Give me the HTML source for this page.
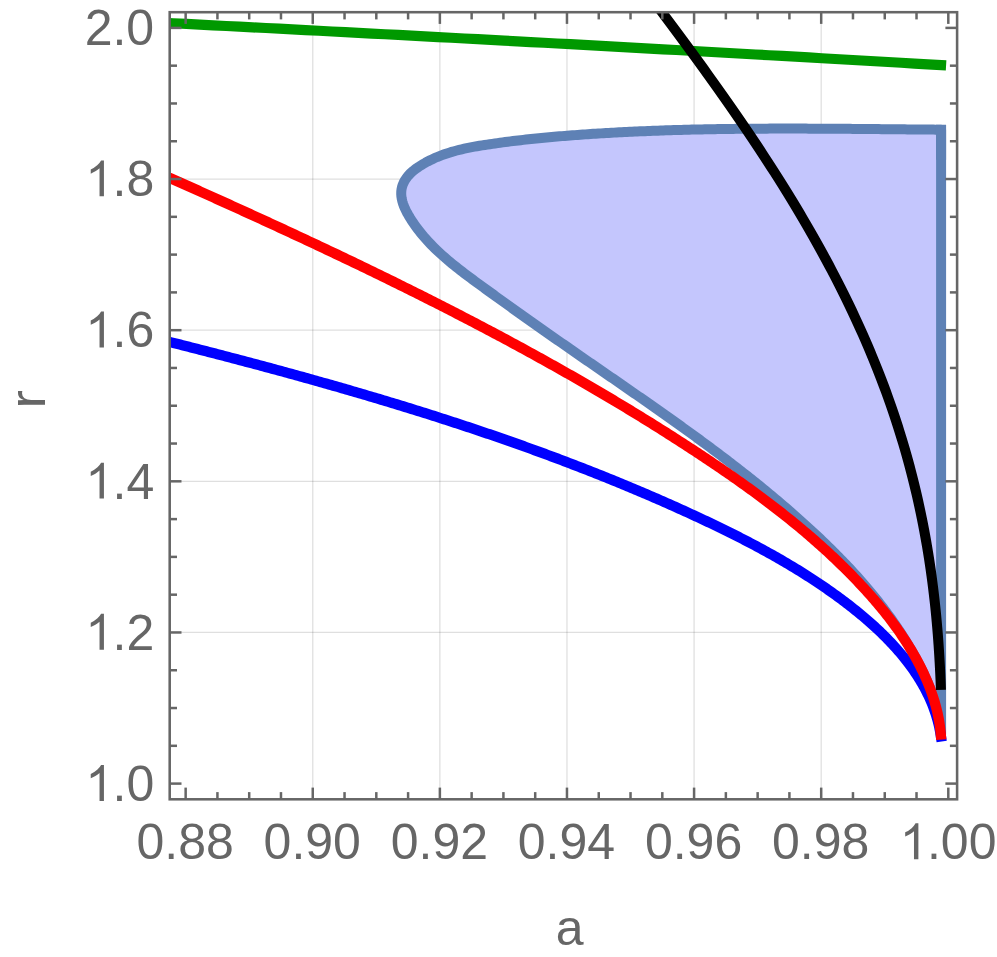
<!DOCTYPE html>
<html><head><meta charset="utf-8"><title>plot</title>
<style>
html,body{margin:0;padding:0;background:#fff;}
body{width:997px;height:957px;overflow:hidden;}
svg{display:block;}
text{font-family:"Liberation Sans",sans-serif;font-size:50px;fill:#666;}
</style></head><body>
<svg width="997" height="957" viewBox="0 0 997 957">
<defs><clipPath id="c"><rect x="169.7" y="12.2" width="787.4000000000001" height="787.0999999999999"/></clipPath></defs>
<rect width="997" height="957" fill="#fff"/>
<g stroke="#000" stroke-opacity="0.125" stroke-width="1.3" fill="none">
<line x1="312.76" y1="12.2" x2="312.76" y2="799.3"/>
<line x1="439.87" y1="12.2" x2="439.87" y2="799.3"/>
<line x1="566.97" y1="12.2" x2="566.97" y2="799.3"/>
<line x1="694.08" y1="12.2" x2="694.08" y2="799.3"/>
<line x1="821.19" y1="12.2" x2="821.19" y2="799.3"/>
<line x1="169.7" y1="632.46" x2="957.1" y2="632.46"/>
<line x1="169.7" y1="481.32" x2="957.1" y2="481.32"/>
<line x1="169.7" y1="330.18" x2="957.1" y2="330.18"/>
<line x1="169.7" y1="179.04" x2="957.1" y2="179.04"/>
</g>
<g clip-path="url(#c)" fill="none" stroke-linejoin="miter">
<path d="M941.10,734.50 L940.81,734.50 L940.65,732.60 L940.39,730.13 L940.09,727.66 L939.75,725.20 L939.38,722.75 L938.96,720.31 L938.51,717.88 L938.02,715.46 L937.50,713.04 L936.94,710.64 L936.35,708.25 L935.72,705.86 L935.06,703.49 L934.36,701.12 L933.63,698.77 L932.88,696.42 L932.09,694.09 L931.27,691.76 L930.42,689.44 L930.29,688.30 L929.27,685.88 L928.23,683.48 L927.17,681.08 L926.10,678.70 L925.00,676.32 L923.89,673.96 L922.76,671.61 L921.61,669.27 L920.44,666.94 L919.26,664.62 L918.06,662.31 L916.84,660.01 L915.61,657.73 L914.36,655.45 L913.10,653.18 L911.81,650.93 L910.52,648.68 L909.20,646.45 L907.87,644.22 L906.53,642.00 L905.17,639.80 L903.80,637.60 L902.41,635.42 L901.00,633.24 L899.59,631.07 L898.15,628.92 L896.71,626.77 L895.25,624.63 L893.77,622.50 L892.29,620.38 L890.79,618.27 L889.27,616.17 L887.75,614.08 L886.21,611.99 L884.66,609.92 L883.09,607.85 L881.52,605.80 L879.93,603.75 L878.33,601.71 L876.72,599.68 L875.09,597.65 L873.46,595.64 L871.82,593.63 L870.16,591.64 L868.49,589.65 L866.82,587.66 L865.13,585.69 L863.43,583.73 L861.72,581.77 L860.01,579.82 L858.28,577.88 L856.54,575.94 L854.80,574.01 L853.04,572.10 L851.28,570.18 L849.51,568.28 L847.73,566.38 L845.94,564.49 L844.14,562.61 L842.34,560.73 L840.53,558.86 L838.71,557.00 L836.88,555.15 L835.04,553.30 L833.20,551.46 L831.35,549.62 L829.50,547.79 L827.64,545.97 L825.77,544.15 L823.90,542.34 L822.02,540.54 L820.13,538.74 L818.24,536.95 L816.35,535.17 L814.45,533.39 L812.54,531.62 L810.63,529.85 L808.71,528.09 L806.79,526.33 L804.87,524.58 L802.94,522.84 L801.01,521.10 L799.07,519.36 L797.13,517.64 L795.18,515.91 L793.23,514.20 L791.28,512.48 L789.32,510.78 L787.36,509.07 L785.39,507.38 L783.42,505.68 L781.45,504.00 L779.47,502.31 L777.49,500.64 L775.51,498.96 L773.52,497.30 L771.52,495.63 L769.53,493.97 L767.53,492.32 L765.52,490.67 L763.52,489.02 L761.51,487.38 L759.49,485.75 L757.48,484.11 L755.46,482.49 L753.43,480.86 L751.41,479.24 L749.38,477.63 L747.34,476.01 L745.31,474.41 L743.27,472.80 L741.23,471.20 L739.18,469.60 L737.13,468.01 L735.08,466.42 L733.03,464.84 L730.97,463.25 L728.91,461.67 L726.85,460.10 L724.79,458.53 L722.72,456.96 L720.65,455.39 L718.58,453.83 L716.51,452.27 L714.43,450.71 L712.35,449.16 L710.27,447.61 L708.19,446.06 L706.10,444.52 L704.01,442.98 L701.92,441.44 L699.83,439.90 L697.74,438.37 L695.64,436.83 L693.54,435.31 L691.44,433.78 L689.34,432.25 L687.24,430.73 L685.13,429.21 L683.03,427.70 L680.92,426.18 L678.81,424.67 L676.69,423.16 L674.58,421.65 L672.47,420.14 L670.35,418.63 L668.23,417.13 L666.11,415.63 L663.99,414.13 L661.87,412.63 L659.75,411.13 L657.63,409.64 L655.50,408.14 L653.37,406.65 L651.25,405.16 L649.12,403.67 L646.99,402.18 L644.86,400.69 L642.73,399.21 L640.60,397.72 L638.47,396.24 L636.33,394.75 L634.20,393.27 L632.07,391.79 L629.93,390.31 L627.80,388.83 L625.66,387.35 L623.52,385.87 L621.39,384.39 L619.25,382.91 L617.11,381.44 L614.98,379.96 L612.84,378.48 L610.70,377.01 L608.56,375.53 L606.42,374.05 L604.29,372.58 L602.15,371.10 L600.01,369.63 L597.87,368.15 L595.74,366.67 L593.60,365.20 L591.46,363.72 L589.32,362.24 L587.19,360.77 L585.05,359.29 L582.92,357.81 L580.78,356.33 L578.65,354.85 L576.51,353.37 L574.38,351.89 L572.24,350.41 L570.11,348.93 L567.98,347.44 L565.85,345.96 L563.72,344.48 L561.59,342.99 L559.46,341.50 L557.33,340.02 L555.20,338.53 L553.08,337.04 L550.95,335.55 L548.82,334.06 L546.70,332.57 L544.57,331.08 L542.45,329.58 L540.33,328.09 L538.20,326.59 L536.08,325.10 L533.96,323.60 L531.84,322.10 L529.72,320.60 L527.60,319.10 L525.48,317.60 L523.36,316.10 L521.25,314.59 L519.13,313.09 L517.01,311.58 L514.90,310.07 L512.79,308.56 L510.67,307.05 L508.56,305.54 L506.45,304.03 L504.34,302.52 L502.23,301.00 L500.12,299.48 L498.01,297.97 L495.90,296.45 L493.79,294.93 L491.69,293.40 L489.58,291.88 L487.48,290.35 L485.37,288.83 L483.27,287.30 L481.17,285.77 L479.07,284.24 L476.97,282.70 L474.87,281.17 L472.77,279.63 L470.68,278.08 L468.60,276.53 L466.52,274.97 L464.44,273.40 L462.38,271.83 L460.32,270.25 L458.28,268.65 L456.24,267.04 L454.21,265.42 L452.20,263.79 L450.20,262.14 L448.22,260.48 L446.25,258.80 L444.30,257.10 L442.36,255.38 L440.44,253.64 L438.54,251.89 L436.66,250.11 L434.80,248.31 L432.97,246.48 L431.15,244.63 L429.36,242.76 L427.60,240.86 L425.86,238.93 L424.14,236.97 L422.46,234.99 L420.80,232.97 L419.17,230.92 L417.57,228.84 L416.00,226.73 L414.47,224.58 L412.96,222.40 L411.49,220.18 L410.06,217.93 L408.68,215.64 L407.36,213.32 L406.12,210.97 L404.99,208.60 L403.97,206.21 L403.08,203.80 L402.35,201.39 L401.78,198.96 L401.40,196.53 L401.22,194.10 L401.26,191.67 L401.53,189.25 L402.06,186.84 L402.86,184.45 L403.93,182.08 L405.23,179.78 L406.74,177.57 L408.43,175.47 L410.26,173.52 L412.23,171.69 L414.29,169.98 L416.44,168.37 L418.64,166.85 L420.88,165.41 L423.14,164.03 L425.42,162.72 L427.73,161.46 L430.05,160.27 L432.39,159.14 L434.75,158.06 L437.13,157.03 L439.53,156.06 L441.94,155.14 L444.36,154.26 L446.80,153.43 L449.26,152.65 L451.73,151.90 L454.21,151.19 L456.70,150.52 L459.20,149.89 L461.72,149.29 L464.24,148.71 L466.77,148.17 L469.31,147.65 L471.85,147.16 L474.40,146.69 L476.96,146.24 L479.52,145.80 L482.08,145.39 L484.65,144.98 L487.22,144.59 L489.79,144.20 L492.36,143.83 L494.94,143.46 L497.51,143.10 L500.09,142.75 L502.66,142.40 L505.24,142.06 L507.82,141.73 L510.39,141.40 L512.97,141.08 L515.55,140.77 L518.13,140.46 L520.71,140.16 L523.29,139.87 L525.88,139.58 L528.46,139.30 L531.04,139.02 L533.63,138.75 L536.21,138.49 L538.80,138.23 L541.38,137.98 L543.97,137.73 L546.55,137.48 L549.14,137.25 L551.73,137.01 L554.31,136.78 L556.90,136.56 L559.49,136.34 L562.08,136.13 L564.67,135.92 L567.26,135.71 L569.85,135.51 L572.44,135.31 L575.03,135.12 L577.62,134.93 L580.21,134.74 L582.80,134.56 L585.39,134.38 L587.98,134.20 L590.57,134.03 L593.17,133.86 L595.76,133.70 L598.35,133.53 L600.94,133.37 L603.53,133.22 L606.13,133.07 L608.72,132.92 L611.31,132.77 L613.90,132.63 L616.50,132.49 L619.09,132.35 L621.68,132.21 L624.28,132.08 L626.87,131.95 L629.46,131.83 L632.06,131.71 L634.65,131.59 L637.25,131.47 L639.84,131.36 L642.44,131.24 L645.03,131.14 L647.62,131.03 L650.22,130.93 L652.81,130.83 L655.41,130.73 L658.00,130.63 L660.60,130.54 L663.20,130.45 L665.79,130.36 L668.39,130.28 L670.98,130.20 L673.58,130.12 L676.17,130.04 L678.77,129.97 L681.37,129.89 L683.96,129.82 L686.56,129.75 L689.15,129.69 L691.75,129.62 L694.35,129.56 L696.94,129.50 L699.54,129.45 L702.14,129.39 L704.73,129.34 L707.33,129.29 L709.93,129.24 L712.53,129.19 L715.12,129.15 L717.72,129.11 L720.32,129.06 L722.91,129.03 L725.51,128.99 L728.11,128.95 L730.71,128.92 L733.30,128.89 L735.90,128.86 L738.50,128.83 L741.10,128.81 L743.69,128.78 L746.29,128.76 L748.89,128.74 L751.49,128.72 L754.09,128.70 L756.68,128.68 L759.28,128.67 L761.88,128.65 L764.48,128.64 L767.08,128.63 L769.67,128.62 L772.27,128.61 L774.87,128.61 L777.47,128.60 L780.07,128.60 L782.66,128.59 L785.26,128.59 L787.86,128.59 L790.46,128.59 L793.06,128.60 L795.65,128.60 L798.25,128.60 L800.85,128.61 L803.45,128.61 L806.05,128.62 L808.65,128.63 L811.24,128.64 L813.84,128.65 L816.44,128.66 L819.04,128.67 L821.64,128.68 L824.23,128.70 L826.83,128.71 L829.43,128.73 L832.03,128.74 L834.63,128.76 L837.22,128.78 L839.82,128.79 L842.42,128.81 L845.02,128.83 L847.62,128.85 L850.21,128.87 L852.81,128.89 L855.41,128.91 L858.01,128.93 L860.60,128.96 L863.20,128.98 L865.80,129.00 L868.40,129.02 L870.99,129.05 L873.59,129.07 L876.19,129.09 L878.78,129.12 L881.38,129.14 L883.98,129.16 L886.58,129.19 L889.17,129.21 L891.77,129.24 L894.37,129.26 L896.96,129.29 L899.56,129.31 L902.16,129.34 L904.75,129.36 L907.35,129.38 L909.94,129.41 L912.54,129.43 L915.14,129.46 L917.73,129.48 L920.33,129.50 L922.92,129.52 L925.52,129.55 L928.11,129.57 L930.71,129.59 L933.31,129.61 L935.90,129.63 L938.50,129.66 L941.10,129.68 Z" fill="#c4c6fd" stroke="#5e81b5" stroke-width="10.0" stroke-linejoin="round"/>
<polyline points="935.90,129.63 941.10,129.68 941.10,159.68" stroke="#5e81b5" stroke-width="10.0" stroke-linejoin="miter" stroke-miterlimit="10"/>
<polyline points="156.79,338.69 171.33,342.37 173.53,342.93 175.72,343.48 177.91,344.04 180.11,344.60 182.30,345.15 184.49,345.71 186.69,346.27 188.88,346.83 191.07,347.39 193.26,347.95 195.46,348.51 197.65,349.08 199.84,349.64 202.04,350.20 204.23,350.77 206.42,351.33 208.61,351.90 210.81,352.47 213.00,353.04 215.19,353.60 217.38,354.17 219.58,354.74 221.77,355.31 223.96,355.89 226.15,356.46 228.35,357.03 230.54,357.61 232.73,358.18 234.92,358.76 237.11,359.33 239.31,359.91 241.50,360.49 243.69,361.07 245.88,361.65 248.07,362.23 250.26,362.81 252.45,363.39 254.64,363.98 256.84,364.56 259.03,365.15 261.22,365.74 263.41,366.32 265.60,366.91 267.79,367.50 269.98,368.09 272.17,368.68 274.36,369.27 276.54,369.87 278.73,370.46 280.92,371.06 283.11,371.65 285.30,372.25 287.49,372.85 289.68,373.45 291.86,374.05 294.05,374.65 296.24,375.26 298.42,375.86 300.61,376.46 302.80,377.07 304.98,377.68 307.17,378.29 309.36,378.90 311.54,379.51 313.73,380.12 315.91,380.73 318.10,381.34 320.28,381.96 322.46,382.58 324.65,383.19 326.83,383.81 329.01,384.43 331.20,385.05 333.38,385.68 335.56,386.30 337.74,386.92 339.93,387.55 342.11,388.18 344.29,388.81 346.47,389.44 348.65,390.07 350.83,390.70 353.01,391.33 355.19,391.97 357.37,392.61 359.54,393.24 361.72,393.88 363.90,394.52 366.08,395.16 368.25,395.81 370.43,396.45 372.61,397.10 374.78,397.74 376.96,398.39 379.13,399.04 381.31,399.69 383.48,400.35 385.65,401.00 387.83,401.66 390.00,402.31 392.17,402.97 394.34,403.63 396.51,404.29 398.69,404.96 400.86,405.62 403.03,406.29 405.19,406.95 407.36,407.62 409.53,408.29 411.70,408.97 413.87,409.64 416.03,410.31 418.20,410.99 420.37,411.67 422.53,412.35 424.70,413.03 426.86,413.71 429.03,414.40 431.19,415.08 433.35,415.77 435.51,416.46 437.68,417.15 439.84,417.84 442.00,418.54 444.16,419.23 446.32,419.93 448.47,420.63 450.63,421.33 452.79,422.03 454.95,422.74 457.10,423.44 459.26,424.15 461.42,424.86 463.57,425.57 465.72,426.28 467.88,427.00 470.03,427.71 472.18,428.43 474.33,429.15 476.49,429.87 478.64,430.60 480.79,431.32 482.93,432.05 485.08,432.78 487.23,433.51 489.38,434.24 491.52,434.97 493.67,435.71 495.81,436.45 497.96,437.19 500.10,437.93 502.24,438.67 504.39,439.42 506.53,440.17 508.67,440.92 510.81,441.67 512.95,442.42 515.09,443.17 517.23,443.93 519.36,444.69 521.50,445.45 523.63,446.21 525.77,446.98 527.90,447.74 530.04,448.51 532.17,449.28 534.30,450.06 536.43,450.83 538.56,451.61 540.69,452.39 542.82,453.17 544.95,453.95 547.08,454.73 549.20,455.52 551.33,456.31 553.45,457.10 555.58,457.89 557.70,458.69 559.82,459.49 561.94,460.29 564.06,461.09 566.18,461.89 568.30,462.70 570.42,463.51 572.54,464.32 574.65,465.13 576.77,465.94 578.88,466.76 581.00,467.58 583.11,468.40 585.22,469.22 587.33,470.05 589.44,470.87 591.55,471.70 593.66,472.54 595.77,473.37 597.88,474.21 599.98,475.05 602.09,475.89 604.19,476.73 606.29,477.58 608.39,478.42 610.50,479.27 612.60,480.13 614.69,480.98 616.79,481.84 618.89,482.70 620.99,483.56 623.08,484.43 625.18,485.29 627.27,486.16 629.36,487.03 631.45,487.91 633.54,488.78 635.63,489.66 637.72,490.54 639.81,491.42 641.89,492.31 643.98,493.20 646.06,494.09 648.15,494.98 650.23,495.88 652.31,496.78 654.39,497.68 656.47,498.58 658.55,499.49 660.62,500.39 662.70,501.30 664.77,502.22 666.85,503.13 668.92,504.05 670.99,504.97 673.06,505.90 675.13,506.82 677.20,507.75 679.27,508.68 681.33,509.61 683.40,510.55 685.46,511.49 687.52,512.43 689.58,513.37 691.64,514.32 693.70,515.27 695.76,516.22 697.82,517.18 699.87,518.13 701.93,519.10 703.98,520.06 706.03,521.02 708.08,521.99 710.13,522.97 712.18,523.94 714.22,524.92 716.27,525.90 718.31,526.89 720.35,527.88 722.39,528.87 724.42,529.87 726.46,530.87 728.49,531.87 730.52,532.88 732.55,533.89 734.58,534.91 736.60,535.93 738.62,536.96 740.64,537.98 742.66,539.02 744.68,540.05 746.69,541.10 748.70,542.14 750.71,543.19 752.71,544.25 754.71,545.31 756.71,546.38 758.71,547.45 760.70,548.52 762.69,549.60 764.68,550.69 766.67,551.78 768.65,552.88 770.63,553.98 772.61,555.09 774.58,556.20 776.55,557.32 778.51,558.44 780.48,559.57 782.44,560.71 784.39,561.85 786.34,563.00 788.29,564.15 790.24,565.31 792.18,566.48 794.12,567.65 796.05,568.83 797.98,570.01 799.91,571.21 801.83,572.40 803.75,573.61 805.67,574.82 807.58,576.04 809.48,577.26 811.39,578.50 813.28,579.73 815.18,580.98 817.07,582.23 818.95,583.50 820.83,584.76 822.71,586.04 824.58,587.32 826.45,588.61 828.31,589.91 830.17,591.22 832.02,592.53 833.87,593.85 835.71,595.18 837.55,596.52 839.38,597.86 841.21,599.22 843.04,600.58 844.85,601.95 846.67,603.33 848.47,604.71 850.27,606.11 852.06,607.51 853.85,608.93 855.63,610.35 857.40,611.78 859.17,613.23 860.92,614.68 862.67,616.14 864.41,617.61 866.14,619.09 867.87,620.58 869.58,622.09 871.28,623.60 872.98,625.12 874.66,626.65 876.34,628.20 878.00,629.75 879.65,631.32 881.29,632.90 882.92,634.49 884.54,636.09 886.15,637.70 887.74,639.32 889.32,640.96 890.89,642.61 892.45,644.27 893.99,645.94 895.52,647.62 897.03,649.32 898.53,651.03 900.01,652.75 901.48,654.49 902.93,656.23 904.36,657.99 905.77,659.76 907.17,661.55 908.54,663.34 909.90,665.15 911.23,666.98 912.55,668.81 913.84,670.66 915.12,672.52 916.37,674.39 917.59,676.28 918.80,678.18 919.98,680.10 921.14,682.02 922.27,683.96 923.38,685.92 924.46,687.88 925.51,689.86 926.54,691.86 927.54,693.87 928.51,695.89 929.46,697.92 930.37,699.97 931.26,702.03 932.12,704.11 932.94,706.20 933.74,708.30 934.50,710.42 935.23,712.55 935.93,714.70 936.60,716.86 937.23,719.03 937.82,721.22 938.39,723.43 938.91,725.64 939.41,727.87 939.86,730.12 940.28,732.38 940.66,734.66 940.93,736.50" stroke="#0000ff" stroke-width="10.299999999999999" stroke-linecap="square"/>
<polyline points="157.34,172.35 171.04,178.46 173.30,179.46 175.56,180.47 177.82,181.48 180.08,182.49 182.34,183.49 184.59,184.50 186.85,185.51 189.11,186.52 191.37,187.53 193.63,188.54 195.89,189.56 198.14,190.57 200.40,191.58 202.66,192.60 204.92,193.61 207.17,194.62 209.43,195.64 211.69,196.66 213.95,197.67 216.20,198.69 218.46,199.71 220.72,200.73 222.97,201.74 225.23,202.76 227.48,203.78 229.74,204.81 232.00,205.83 234.25,206.85 236.51,207.87 238.76,208.90 241.02,209.92 243.27,210.95 245.52,211.97 247.78,213.00 250.03,214.03 252.28,215.06 254.54,216.09 256.79,217.12 259.04,218.15 261.29,219.18 263.55,220.21 265.80,221.24 268.05,222.28 270.30,223.31 272.55,224.35 274.80,225.38 277.05,226.42 279.30,227.46 281.55,228.50 283.80,229.54 286.05,230.58 288.29,231.62 290.54,232.66 292.79,233.71 295.04,234.75 297.28,235.80 299.53,236.84 301.78,237.89 304.02,238.94 306.27,239.99 308.51,241.04 310.75,242.09 313.00,243.14 315.24,244.20 317.48,245.25 319.73,246.30 321.97,247.36 324.21,248.42 326.45,249.48 328.69,250.54 330.93,251.60 333.17,252.66 335.41,253.72 337.65,254.78 339.88,255.85 342.12,256.91 344.36,257.98 346.60,259.05 348.83,260.12 351.07,261.19 353.30,262.26 355.54,263.33 357.77,264.41 360.00,265.48 362.23,266.56 364.47,267.63 366.70,268.71 368.93,269.79 371.16,270.87 373.39,271.96 375.62,273.04 377.85,274.12 380.07,275.21 382.30,276.30 384.53,277.38 386.75,278.47 388.98,279.56 391.20,280.66 393.43,281.75 395.65,282.84 397.87,283.94 400.09,285.04 402.32,286.14 404.54,287.24 406.76,288.34 408.97,289.44 411.19,290.54 413.41,291.65 415.63,292.76 417.84,293.86 420.06,294.97 422.27,296.08 424.49,297.20 426.70,298.31 428.91,299.42 431.13,300.54 433.34,301.66 435.55,302.78 437.76,303.90 439.97,305.02 442.17,306.15 444.38,307.27 446.59,308.40 448.79,309.53 451.00,310.66 453.20,311.79 455.40,312.92 457.61,314.05 459.81,315.19 462.01,316.33 464.21,317.47 466.41,318.61 468.60,319.75 470.80,320.89 473.00,322.04 475.19,323.18 477.39,324.33 479.58,325.48 481.77,326.63 483.96,327.79 486.16,328.94 488.35,330.10 490.53,331.26 492.72,332.42 494.91,333.58 497.10,334.74 499.28,335.91 501.46,337.07 503.65,338.24 505.83,339.41 508.01,340.58 510.19,341.76 512.37,342.93 514.55,344.11 516.73,345.29 518.90,346.47 521.08,347.65 523.25,348.84 525.43,350.02 527.60,351.21 529.77,352.40 531.94,353.59 534.11,354.78 536.28,355.98 538.44,357.17 540.61,358.37 542.77,359.57 544.94,360.78 547.10,361.98 549.26,363.19 551.42,364.39 553.58,365.60 555.74,366.82 557.90,368.03 560.05,369.25 562.21,370.46 564.36,371.68 566.52,372.90 568.67,374.13 570.82,375.35 572.97,376.58 575.11,377.81 577.26,379.04 579.41,380.27 581.55,381.51 583.70,382.75 585.84,383.99 587.98,385.23 590.12,386.47 592.26,387.72 594.39,388.96 596.53,390.21 598.66,391.47 600.80,392.72 602.93,393.98 605.06,395.23 607.19,396.49 609.32,397.76 611.45,399.02 613.57,400.29 615.70,401.56 617.82,402.83 619.95,404.10 622.07,405.38 624.19,406.66 626.30,407.94 628.42,409.22 630.54,410.51 632.65,411.79 634.77,413.08 636.88,414.37 638.99,415.67 641.10,416.96 643.21,418.26 645.31,419.57 647.42,420.87 649.52,422.17 651.62,423.48 653.72,424.79 655.82,426.11 657.92,427.42 660.02,428.74 662.12,430.06 664.21,431.38 666.30,432.71 668.39,434.04 670.48,435.37 672.57,436.70 674.66,438.04 676.75,439.37 678.83,440.72 680.91,442.06 682.99,443.40 685.07,444.75 687.15,446.10 689.23,447.46 691.31,448.81 693.38,450.17 695.45,451.53 697.52,452.90 699.59,454.26 701.66,455.63 703.73,457.01 705.79,458.38 707.85,459.76 709.91,461.14 711.97,462.53 714.03,463.91 716.08,465.30 718.14,466.70 720.19,468.10 722.23,469.50 724.28,470.90 726.32,472.31 728.36,473.72 730.40,475.13 732.44,476.55 734.47,477.98 736.50,479.40 738.52,480.83 740.55,482.27 742.57,483.70 744.59,485.15 746.60,486.59 748.61,488.04 750.62,489.50 752.62,490.96 754.63,492.42 756.62,493.89 758.62,495.36 760.61,496.83 762.60,498.32 764.58,499.80 766.56,501.29 768.53,502.79 770.51,504.29 772.47,505.79 774.44,507.30 776.40,508.82 778.35,510.34 780.30,511.86 782.25,513.39 784.19,514.93 786.13,516.47 788.06,518.01 789.99,519.57 791.92,521.12 793.84,522.69 795.75,524.25 797.66,525.83 799.56,527.41 801.46,528.99 803.36,530.58 805.25,532.18 807.13,533.78 809.01,535.39 810.88,537.01 812.75,538.63 814.62,540.25 816.47,541.89 818.32,543.53 820.17,545.17 822.01,546.83 823.85,548.48 825.67,550.15 827.50,551.82 829.31,553.50 831.12,555.19 832.93,556.88 834.73,558.58 836.52,560.28 838.30,562.00 840.08,563.72 841.86,565.44 843.62,567.18 845.38,568.92 847.13,570.67 848.88,572.42 850.62,574.19 852.35,575.96 854.08,577.74 855.80,579.52 857.51,581.32 859.21,583.12 860.91,584.93 862.60,586.74 864.28,588.57 865.95,590.40 867.62,592.24 869.28,594.09 870.93,595.94 872.57,597.81 874.20,599.68 875.82,601.57 877.43,603.46 879.03,605.36 880.61,607.26 882.19,609.18 883.76,611.11 885.31,613.04 886.85,614.99 888.38,616.94 889.90,618.91 891.40,620.88 892.89,622.86 894.37,624.85 895.83,626.85 897.28,628.87 898.71,630.89 900.13,632.92 901.54,634.96 902.92,637.01 904.29,639.07 905.65,641.15 906.99,643.23 908.31,645.32 909.61,647.43 910.90,649.54 912.17,651.67 913.42,653.81 914.65,655.96 915.86,658.11 917.05,660.28 918.22,662.46 919.37,664.66 920.49,666.86 921.60,669.07 922.68,671.29 923.74,673.52 924.77,675.77 925.78,678.02 926.76,680.28 927.72,682.56 928.65,684.84 929.55,687.14 930.42,689.44 931.27,691.76 932.09,694.09 932.88,696.42 933.63,698.77 934.36,701.12 935.06,703.49 935.72,705.86 936.35,708.25 936.94,710.64 937.50,713.04 938.02,715.46 938.51,717.88 938.96,720.31 939.38,722.75 939.75,725.20 940.09,727.66 940.39,730.13 940.65,732.60 940.81,734.50" stroke="#ff0000" stroke-width="10.299999999999999" stroke-linecap="square"/>
<polyline points="160.00,22.61 173.24,23.28 186.47,23.96 199.71,24.63 212.95,25.31 226.19,25.98 239.42,26.66 252.66,27.35 265.90,28.03 279.14,28.71 292.37,29.40 305.61,30.09 318.85,30.78 332.08,31.47 345.32,32.16 358.56,32.85 371.80,33.55 385.03,34.25 398.27,34.95 411.51,35.65 424.75,36.35 437.98,37.06 451.22,37.76 464.46,38.47 477.69,39.18 490.93,39.89 504.17,40.60 517.41,41.32 530.64,42.04 543.88,42.75 557.12,43.47 570.36,44.19 583.59,44.92 596.83,45.64 610.07,46.37 623.31,47.10 636.54,47.83 649.78,48.56 663.02,49.29 676.25,50.03 689.49,50.76 702.73,51.50 715.97,52.24 729.20,52.98 742.44,53.72 755.68,54.47 768.92,55.22 782.15,55.96 795.39,56.71 808.63,57.46 821.86,58.22 835.10,58.97 848.34,59.73 861.58,60.49 874.81,61.25 888.05,62.01 901.29,62.77 914.53,63.54 927.76,64.30 941.00,65.07" stroke="#009900" stroke-width="10.2" stroke-linecap="square"/>
<polyline points="652.79,0.00 657.12,5.76 661.44,11.51 665.74,17.27 670.04,23.02 674.33,28.78 678.60,34.53 682.85,40.29 687.10,46.04 691.32,51.80 695.53,57.55 699.72,63.31 703.89,69.07 708.03,74.82 712.16,80.58 716.27,86.33 720.35,92.09 724.41,97.84 728.45,103.60 732.46,109.35 736.44,115.11 740.40,120.86 744.33,126.62 748.23,132.38 752.10,138.13 755.94,143.89 759.76,149.64 763.54,155.40 767.29,161.15 771.01,166.91 774.69,172.66 778.34,178.42 781.96,184.17 785.54,189.93 789.09,195.69 792.60,201.44 796.07,207.20 799.51,212.95 802.91,218.71 806.28,224.46 809.60,230.22 812.89,235.97 816.13,241.73 819.34,247.48 822.51,253.24 825.64,259.00 828.73,264.75 831.77,270.51 834.78,276.26 837.74,282.02 840.66,287.77 843.54,293.53 846.38,299.28 849.17,305.04 851.92,310.79 854.63,316.55 857.29,322.31 859.92,328.06 862.49,333.82 865.03,339.57 867.52,345.33 869.96,351.08 872.36,356.84 874.72,362.59 877.03,368.35 879.30,374.11 881.53,379.86 883.71,385.62 885.84,391.37 887.93,397.13 889.98,402.88 891.98,408.64 893.94,414.39 895.85,420.15 897.72,425.90 899.55,431.66 901.33,437.42 903.06,443.17 904.76,448.93 906.41,454.68 908.02,460.44 909.58,466.19 911.10,471.95 912.58,477.70 914.02,483.46 915.41,489.21 916.76,494.97 918.07,500.73 919.34,506.48 920.57,512.24 921.76,517.99 922.91,523.75 924.02,529.50 925.08,535.26 926.12,541.01 927.11,546.77 928.06,552.52 928.98,558.28 929.85,564.04 930.70,569.79 931.50,575.55 932.27,581.30 933.01,587.06 933.71,592.81 934.38,598.57 935.01,604.32 935.61,610.08 936.18,615.83 936.71,621.59 937.22,627.35 937.70,633.10 938.14,638.86 938.56,644.61 938.95,650.37 939.31,656.12 939.65,661.88 939.96,667.63 940.25,673.39 940.51,679.14 940.74,684.90" stroke="#000000" stroke-width="10.05" stroke-linecap="square"/>
</g>
<g stroke="#666" stroke-width="2.5" fill="none">
<line x1="185.65" y1="799.30" x2="185.65" y2="787.60"/>
<line x1="185.65" y1="12.20" x2="185.65" y2="23.90"/>
<line x1="217.43" y1="799.30" x2="217.43" y2="792.10"/>
<line x1="217.43" y1="12.20" x2="217.43" y2="19.40"/>
<line x1="249.20" y1="799.30" x2="249.20" y2="792.10"/>
<line x1="249.20" y1="12.20" x2="249.20" y2="19.40"/>
<line x1="280.98" y1="799.30" x2="280.98" y2="792.10"/>
<line x1="280.98" y1="12.20" x2="280.98" y2="19.40"/>
<line x1="312.76" y1="799.30" x2="312.76" y2="787.60"/>
<line x1="312.76" y1="12.20" x2="312.76" y2="23.90"/>
<line x1="344.54" y1="799.30" x2="344.54" y2="792.10"/>
<line x1="344.54" y1="12.20" x2="344.54" y2="19.40"/>
<line x1="376.31" y1="799.30" x2="376.31" y2="792.10"/>
<line x1="376.31" y1="12.20" x2="376.31" y2="19.40"/>
<line x1="408.09" y1="799.30" x2="408.09" y2="792.10"/>
<line x1="408.09" y1="12.20" x2="408.09" y2="19.40"/>
<line x1="439.87" y1="799.30" x2="439.87" y2="787.60"/>
<line x1="439.87" y1="12.20" x2="439.87" y2="23.90"/>
<line x1="471.64" y1="799.30" x2="471.64" y2="792.10"/>
<line x1="471.64" y1="12.20" x2="471.64" y2="19.40"/>
<line x1="503.42" y1="799.30" x2="503.42" y2="792.10"/>
<line x1="503.42" y1="12.20" x2="503.42" y2="19.40"/>
<line x1="535.20" y1="799.30" x2="535.20" y2="792.10"/>
<line x1="535.20" y1="12.20" x2="535.20" y2="19.40"/>
<line x1="566.97" y1="799.30" x2="566.97" y2="787.60"/>
<line x1="566.97" y1="12.20" x2="566.97" y2="23.90"/>
<line x1="598.75" y1="799.30" x2="598.75" y2="792.10"/>
<line x1="598.75" y1="12.20" x2="598.75" y2="19.40"/>
<line x1="630.53" y1="799.30" x2="630.53" y2="792.10"/>
<line x1="630.53" y1="12.20" x2="630.53" y2="19.40"/>
<line x1="662.31" y1="799.30" x2="662.31" y2="792.10"/>
<line x1="662.31" y1="12.20" x2="662.31" y2="19.40"/>
<line x1="694.08" y1="799.30" x2="694.08" y2="787.60"/>
<line x1="694.08" y1="12.20" x2="694.08" y2="23.90"/>
<line x1="725.86" y1="799.30" x2="725.86" y2="792.10"/>
<line x1="725.86" y1="12.20" x2="725.86" y2="19.40"/>
<line x1="757.64" y1="799.30" x2="757.64" y2="792.10"/>
<line x1="757.64" y1="12.20" x2="757.64" y2="19.40"/>
<line x1="789.41" y1="799.30" x2="789.41" y2="792.10"/>
<line x1="789.41" y1="12.20" x2="789.41" y2="19.40"/>
<line x1="821.19" y1="799.30" x2="821.19" y2="787.60"/>
<line x1="821.19" y1="12.20" x2="821.19" y2="23.90"/>
<line x1="852.97" y1="799.30" x2="852.97" y2="792.10"/>
<line x1="852.97" y1="12.20" x2="852.97" y2="19.40"/>
<line x1="884.75" y1="799.30" x2="884.75" y2="792.10"/>
<line x1="884.75" y1="12.20" x2="884.75" y2="19.40"/>
<line x1="916.52" y1="799.30" x2="916.52" y2="792.10"/>
<line x1="916.52" y1="12.20" x2="916.52" y2="19.40"/>
<line x1="948.30" y1="799.30" x2="948.30" y2="787.60"/>
<line x1="948.30" y1="12.20" x2="948.30" y2="23.90"/>
<line x1="169.70" y1="783.60" x2="181.50" y2="783.60"/>
<line x1="957.10" y1="783.60" x2="945.40" y2="783.60"/>
<line x1="169.70" y1="745.81" x2="177.00" y2="745.81"/>
<line x1="957.10" y1="745.81" x2="949.90" y2="745.81"/>
<line x1="169.70" y1="708.03" x2="177.00" y2="708.03"/>
<line x1="957.10" y1="708.03" x2="949.90" y2="708.03"/>
<line x1="169.70" y1="670.25" x2="177.00" y2="670.25"/>
<line x1="957.10" y1="670.25" x2="949.90" y2="670.25"/>
<line x1="169.70" y1="632.46" x2="181.50" y2="632.46"/>
<line x1="957.10" y1="632.46" x2="945.40" y2="632.46"/>
<line x1="169.70" y1="594.68" x2="177.00" y2="594.68"/>
<line x1="957.10" y1="594.68" x2="949.90" y2="594.68"/>
<line x1="169.70" y1="556.89" x2="177.00" y2="556.89"/>
<line x1="957.10" y1="556.89" x2="949.90" y2="556.89"/>
<line x1="169.70" y1="519.11" x2="177.00" y2="519.11"/>
<line x1="957.10" y1="519.11" x2="949.90" y2="519.11"/>
<line x1="169.70" y1="481.32" x2="181.50" y2="481.32"/>
<line x1="957.10" y1="481.32" x2="945.40" y2="481.32"/>
<line x1="169.70" y1="443.54" x2="177.00" y2="443.54"/>
<line x1="957.10" y1="443.54" x2="949.90" y2="443.54"/>
<line x1="169.70" y1="405.75" x2="177.00" y2="405.75"/>
<line x1="957.10" y1="405.75" x2="949.90" y2="405.75"/>
<line x1="169.70" y1="367.96" x2="177.00" y2="367.96"/>
<line x1="957.10" y1="367.96" x2="949.90" y2="367.96"/>
<line x1="169.70" y1="330.18" x2="181.50" y2="330.18"/>
<line x1="957.10" y1="330.18" x2="945.40" y2="330.18"/>
<line x1="169.70" y1="292.40" x2="177.00" y2="292.40"/>
<line x1="957.10" y1="292.40" x2="949.90" y2="292.40"/>
<line x1="169.70" y1="254.61" x2="177.00" y2="254.61"/>
<line x1="957.10" y1="254.61" x2="949.90" y2="254.61"/>
<line x1="169.70" y1="216.83" x2="177.00" y2="216.83"/>
<line x1="957.10" y1="216.83" x2="949.90" y2="216.83"/>
<line x1="169.70" y1="179.04" x2="181.50" y2="179.04"/>
<line x1="957.10" y1="179.04" x2="945.40" y2="179.04"/>
<line x1="169.70" y1="141.25" x2="177.00" y2="141.25"/>
<line x1="957.10" y1="141.25" x2="949.90" y2="141.25"/>
<line x1="169.70" y1="103.47" x2="177.00" y2="103.47"/>
<line x1="957.10" y1="103.47" x2="949.90" y2="103.47"/>
<line x1="169.70" y1="65.68" x2="177.00" y2="65.68"/>
<line x1="957.10" y1="65.68" x2="949.90" y2="65.68"/>
<line x1="169.70" y1="27.90" x2="181.50" y2="27.90"/>
<line x1="957.10" y1="27.90" x2="945.40" y2="27.90"/>
</g>
<rect x="169.7" y="12.2" width="787.4000000000001" height="787.0999999999999" fill="none" stroke="#666" stroke-width="2.55"/>
<g>
<text x="185.15" y="859.3" text-anchor="middle">0.88</text>
<text x="312.26" y="859.3" text-anchor="middle">0.90</text>
<text x="439.37" y="859.3" text-anchor="middle">0.92</text>
<text x="566.47" y="859.3" text-anchor="middle">0.94</text>
<text x="693.58" y="859.3" text-anchor="middle">0.96</text>
<text x="820.69" y="859.3" text-anchor="middle">0.98</text>
<path d="M763 0L583 0L583 1147Q518 1085 412.5 1023Q307 961 223 930L223 1104Q374 1175 487 1276Q600 1377 647 1472L763 1472Z" transform="translate(899.75,859.30) scale(0.024414,-0.024414)" fill="#666"/>
<text x="926.95" y="859.3">.00</text>
<path d="M763 0L583 0L583 1147Q518 1085 412.5 1023Q307 961 223 930L223 1104Q374 1175 487 1276Q600 1377 647 1472L763 1472Z" transform="translate(85.30,800.90) scale(0.024414,-0.024414)" fill="#666"/>
<text x="154.2" y="800.90" text-anchor="end">.0</text>
<path d="M763 0L583 0L583 1147Q518 1085 412.5 1023Q307 961 223 930L223 1104Q374 1175 487 1276Q600 1377 647 1472L763 1472Z" transform="translate(85.30,649.76) scale(0.024414,-0.024414)" fill="#666"/>
<text x="154.2" y="649.76" text-anchor="end">.2</text>
<path d="M763 0L583 0L583 1147Q518 1085 412.5 1023Q307 961 223 930L223 1104Q374 1175 487 1276Q600 1377 647 1472L763 1472Z" transform="translate(85.30,498.62) scale(0.024414,-0.024414)" fill="#666"/>
<text x="154.2" y="498.62" text-anchor="end">.4</text>
<path d="M763 0L583 0L583 1147Q518 1085 412.5 1023Q307 961 223 930L223 1104Q374 1175 487 1276Q600 1377 647 1472L763 1472Z" transform="translate(85.30,347.48) scale(0.024414,-0.024414)" fill="#666"/>
<text x="154.2" y="347.48" text-anchor="end">.6</text>
<path d="M763 0L583 0L583 1147Q518 1085 412.5 1023Q307 961 223 930L223 1104Q374 1175 487 1276Q600 1377 647 1472L763 1472Z" transform="translate(85.30,196.34) scale(0.024414,-0.024414)" fill="#666"/>
<text x="154.2" y="196.34" text-anchor="end">.8</text>
<text x="154.2" y="45.20" text-anchor="end">2.0</text>
<text x="569.6" y="945.4" text-anchor="middle">a</text>
<text transform="translate(45.1,399.3) rotate(-90) scale(1.13,1)" text-anchor="middle">r</text>
</g>
</svg>
</body></html>
